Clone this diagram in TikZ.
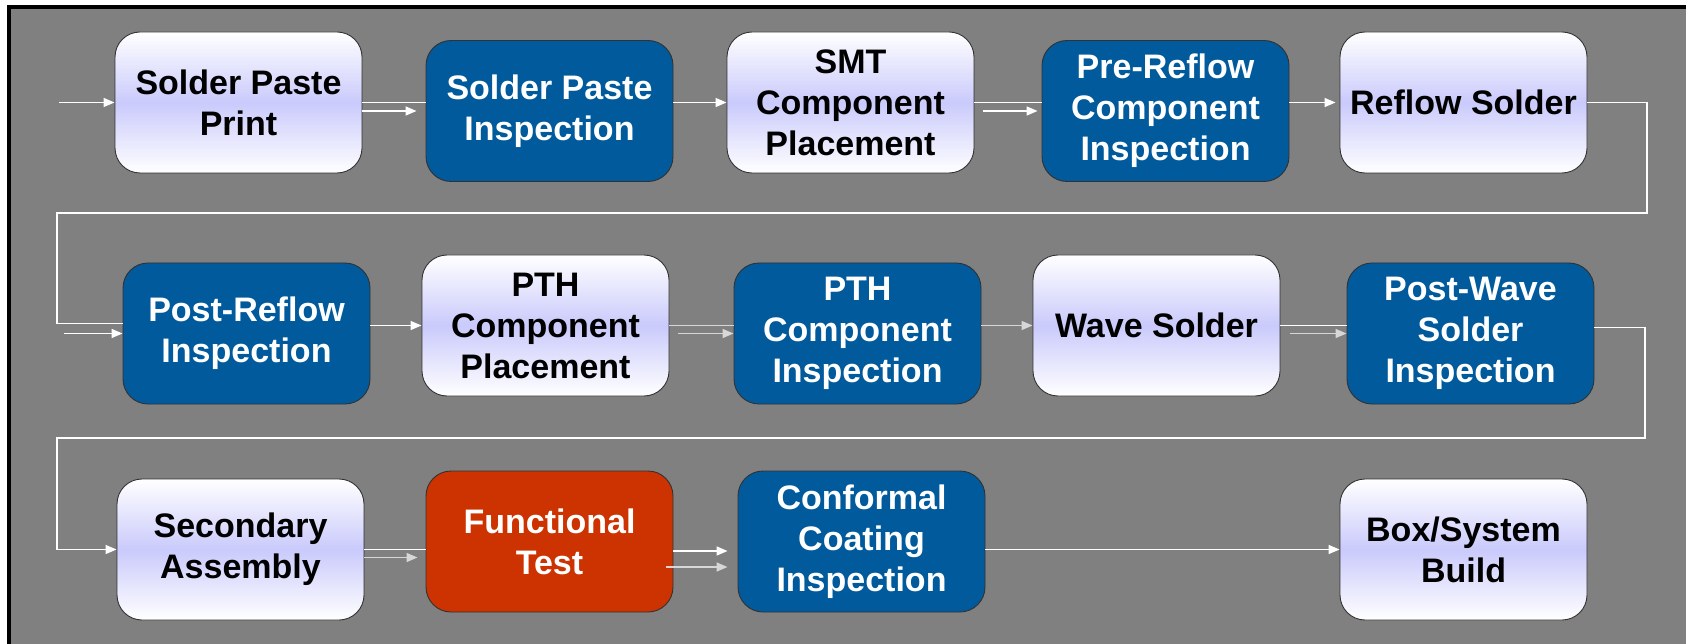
\documentclass[tikz,border=0pt]{standalone}
\usepackage{fontspec}
\setmainfont{Liberation Sans}
\usetikzlibrary{arrows.meta}
\definecolor{bgray}{RGB}{128,128,128}
\definecolor{lav}{RGB}{202,202,252}
\definecolor{dblue}{RGB}{0,90,156}
\definecolor{dred}{RGB}{204,51,0}
\definecolor{bord}{RGB}{50,50,50}
\definecolor{lgray}{RGB}{215,215,215}
\tikzset{
  box/.style={rounded corners=25pt, minimum width=247pt, minimum height=141pt,
    inner sep=0pt, align=center, draw=bord, line width=0.9pt,
    font=\fontsize{34}{41}\selectfont\bfseries},
  lightbox/.style={box, top color=white, bottom color=white, middle color=lav, text=black},
  bluebox/.style={box, fill=dblue, text=white},
  redbox/.style={box, fill=dred, text=white},
  conn/.style={draw=white, line width=1.4pt},
  conng/.style={draw=lgray, line width=1.4pt},
  arr/.style={-{Triangle[length=11pt,width=9pt]}}
}
\begin{document}
\begin{tikzpicture}[x=1pt,y=-1pt]
\useasboundingbox (0,0) rectangle (1686,644);
\fill[white] (0,0) rectangle (1686,644);
\fill[black] (7,5) rectangle (1690,650);
\fill[bgray] (11,9) rectangle (1690,650);

% Row 1
\node[lightbox] (spp) at (238.5,102.5) {Solder Paste\\Print};
\node[bluebox]  (spi) at (549.5,111) {Solder Paste\\Inspection};
\node[lightbox] (smt) at (850.5,102.5) {SMT\\Component\\Placement};
\node[bluebox]  (pre) at (1165.5,111) {Pre-Reflow\\Component\\Inspection};
\node[lightbox] (rs)  at (1463.5,102.5) {Reflow Solder};
% Row 2
\node[bluebox]  (prr)  at (246.5,333.5) {Post-Reflow\\Inspection};
\node[lightbox] (pthp) at (545.5,325.5) {PTH\\Component\\Placement};
\node[bluebox]  (pthi) at (857.5,333.5) {PTH\\Component\\Inspection};
\node[lightbox] (wave) at (1156.5,325.5) {Wave Solder};
\node[bluebox]  (pw)   at (1470.5,333.5) {Post-Wave\\Solder\\Inspection};
% Row 3
\node[lightbox] (sa) at (240.5,549.5) {Secondary\\Assembly};
\node[redbox]   (fn) at (549.5,541.5) {Functional\\Test};
\node[bluebox]  (cc) at (861.5,541.5) {Conformal\\Coating\\Inspection};
\node[lightbox] (bx) at (1463.5,549.5) {Box/System\\Build};

% coordinates
\coordinate (in1) at (59,102.5);
\coordinate (in2) at (64,333.5);
\coordinate (t1) at (1647,213);
\coordinate (t2) at (57,213);
\coordinate (t3) at (1645,438);
\coordinate (t4) at (57,438);
\coordinate (p1) at ([yshift=10pt]prr.west);
\coordinate (p2) at ([yshift=6pt]pw.east);
\coordinate (s1) at ([yshift=-8pt]sa.east);
\coordinate (f1) at ([yshift=-9.5pt]fn.east);
\coordinate (f2) at ([yshift=-25.5pt,xshift=-7pt]fn.east);

% Row 1 connectors
\draw[conn,arr] (in1) -- (spp.west);
\draw[conn] (spp.east) -- (spp.east -| spi.west);
\draw[conn,arr,shorten >=9pt] (spp.east |- spi.west) -- (spi.west);
\draw[conn,arr] (spi.east |- smt.west) -- (smt.west);
\draw[conn] (smt.east) -- (smt.east -| pre.west);
\draw[conn,arr,shorten <=9pt,shorten >=4pt] (smt.east |- pre.west) -- (pre.west);
\draw[conn,arr,shorten >=4pt] (pre.east |- rs.west) -- (rs.west);
\draw[conn] (rs.east) -| (t1) -- (t2) |- (p1);
% Row 2 connectors
\draw[conn,arr] (in2) -- (prr.west);
\draw[conn,arr] (prr.east |- pthp.west) -- (pthp.west);
\draw[conng] (pthp.east) -- (pthp.east -| pthi.west);
\draw[conng,arr,shorten <=9pt] (pthp.east |- pthi.west) -- (pthi.west);
\draw[conng,arr] (pthi.east |- wave.west) -- (wave.west);
\draw[conn] (wave.east) -- (wave.east -| pw.west);
\draw[conng,arr,shorten <=10pt] (wave.east |- pw.west) -- (pw.west);
\draw[conn,arr] (p2) -| (t3) -- (t4) |- (sa.west);
% Row 3 connectors
\draw[conn] (sa.east) -- (sa.east -| fn.west);
\draw[conng,arr,shorten >=8pt] (s1) -- (s1 -| fn.west);
\draw[conn,arr,shorten >=10pt] (f1) -- (f1 -| cc.west);
\draw[conng,arr,shorten >=10pt] (f2) -- (f2 -| cc.west);
\draw[conn,arr] (cc.east |- bx.west) -- (bx.west);
\end{tikzpicture}
\end{document}
